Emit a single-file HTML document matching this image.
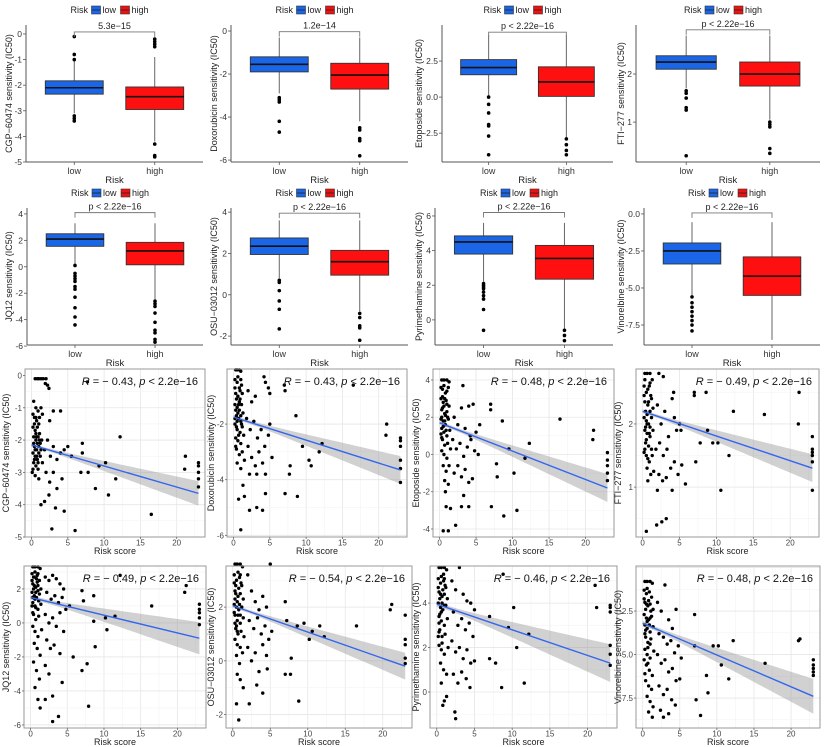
<!DOCTYPE html>
<html><head><meta charset="utf-8"><style>
html,body{margin:0;padding:0;background:#fff}
svg{display:block;font-family:"Liberation Sans",sans-serif}
</style></head><body>
<svg id="fig" width="824" height="747" viewBox="0 0 824 747" xmlns="http://www.w3.org/2000/svg"></svg>
<script>
// ---------- BOX PLOT DATA ----------
var boxDrugs = ["CGP\u221260474","Doxorubicin","Etoposide","FTI\u2212277","JQ12","OSU\u221203012","Pyrimethamine","Vinorelbine"];
var boxPLabels = ["5.3e\u221215","1.2e\u221214","p < 2.22e\u221216","p < 2.22e\u221216","p < 2.22e\u221216","p < 2.22e\u221216","p < 2.22e\u221216","p < 2.22e\u221216"];
// [whiskerLow, Q1, median, Q3, whiskerHigh]
var boxLow = [[-3.1,-2.35,-2.1,-1.83,-1.05],[-2.9,-1.9,-1.55,-1.2,-0.3],[0.1,1.55,2.05,2.6,4.3],[1.7,2.1,2.25,2.38,2.8],
  [0.2,1.55,2.1,2.5,3.3],[0.8,1.95,2.35,2.75,3.6],[2.2,3.8,4.5,4.85,5.6],[-5.47,-3.38,-2.5,-1.96,-0.55]];
var boxHigh = [[-4.2,-2.95,-2.45,-2.07,-0.9],[-4.2,-2.7,-2.05,-1.5,-0.3],[-2.9,0.05,1.05,2.1,4.3],[1.05,1.75,2.0,2.25,2.8],
  [-2.5,0.15,1.2,1.85,3.3],[-0.8,0.95,1.6,2.15,3.6],[-0.5,2.35,3.55,4.3,5.6],[-8.5,-5.5,-4.2,-2.9,-0.55]];
var boxLowOut = [[-0.1,-0.8,-1.0,-3.2,-3.3,-3.4],[-3.1,-3.2,-3.3,-4.2,-4.7],[0,-0.5,-1.1,-1.9,-2.0,-2.7,-4.0],[1.65,1.6,1.5,1.3,1.25,0.3],
  [0.1,-0.5,-0.7,-0.9,-1.1,-1.5,-1.7,-2.3,-3.1,-3.8,-4.4],[0.7,0.6,0.2,-0.3,-0.7,-1.65],[2.1,2.0,1.9,1.8,1.6,1.4,1.2,0.6,-0.6],[-5.6,-6.0,-6.3,-6.6,-6.9,-7.2,-7.5,-7.9]];
var boxHighOut = [[-0.2,-0.3,-0.4,-0.5,-4.3,-4.75,-4.8],[-4.5,-4.6,-5.0,-5.1,-5.8],[-2.9,-3.3,-3.7,-4.0],[1.0,0.95,0.9,0.45,0.35],
  [-2.6,-2.8,-3.0,-3.5,-4.2,-4.8,-5.0,-5.5,-5.7],[-0.9,-1.1,-1.5,-1.6,-2.2],[-0.6,-0.9,-1.2],[]];
var boxBracket = [0.08,-0.03,4.5,2.92,4.1,3.95,6.2,0.07];
var boxYTicks = [[0,-1,-2,-3,-4,-5],[0,-2,-4,-6],[2.5,0,-2.5],[2,1],[4,2,0,-2,-4,-6],[4,2,0,-2],[6,4,2,0],[0,-2.5,-5,-7.5]];
var boxYTickLabels = [["0","-1","-2","-3","-4","-5"],["0","-2","-4","-6"],["2.5","0.0","-2.5"],["2","1"],["4","2","0","-2","-4","-6"],["4","2","0","-2"],["6","4","2","0"],["0.0","-2.5","-5.0","-7.5"]];
var boxYDomain = [[-5,0.35],[-6.09,0.28],[-4.5,5.0],[0.17,3.02],[-5.92,4.45],[-2.43,4.2],[-1.45,6.46],[-8.85,0.4]];

// ---------- SCATTER DATA ----------
var scR = ["0.43","0.43","0.48","0.49","0.49","0.54","0.46","0.48"];
var scFitStart = [-2.15,-1.75,1.7,2.2,1.5,2.05,3.95,-3.2];
var scFitEnd = [-3.65,-3.65,-1.8,1.3,-0.9,-0.2,1.3,-7.4];
var scBandEnd = [0.38,0.5,0.75,0.22,0.95,0.5,0.85,1.0];
var scXTicks = [0,5,10,15,20];
var scYTicks = [[0,-1,-2,-3,-4,-5],[-2,-4,-6],[4,2,0,-2,-4],[2,1],[2,0,-2,-4,-6],[2,0,-2],[4,2,0],[-2.5,-5,-7.5]];
var scYTickLabels = [["0","-1","-2","-3","-4","-5"],["-2","-4","-6"],["4","2","0","-2","-4"],["2","1"],["2","0","-2","-4","-6"],["2","0","-2"],["4","2","0"],["-2.5","-5.0","-7.5"]];
var scYDomain = [[-5.0,0.2],[-6.06,-0.02],[-4.43,4.59],[0.21,2.87],[-6.18,3.35],[-2.5,3.53],[-1.62,5.67],[-9.22,0.09]];
var scPts1 = [0.5,-0.1,0.8,-0.1,1.0,-0.1,1.3,-0.1,1.6,-0.1,2.0,-0.1,2.2,-0.3,2.4,-0.4,1.9,-0.25,7.7,-0.2,0.3,-0.8,0.6,-1.0,0.9,-1.1,1.3,-1.0,0.4,-1.3,0.7,-1.4,1.1,-1.3,1.5,-1.2,2.5,-1.4,3.0,-1.1,4.0,-1.1,0.2,-1.6,0.5,-1.7,0.8,-1.6,1.1,-1.8,0.3,-1.9,0.6,-2.0,0.9,-1.9,1.2,-2.1,0.4,-2.2,0.7,-2.3,1.0,-2.2,1.4,-2.0,0.2,-2.4,0.5,-2.5,0.8,-2.6,1.2,-2.5,0.3,-2.7,0.6,-2.8,0.9,-2.9,1.5,-2.7,0.1,-3.0,0.5,-3.1,1.0,-3.2,1.8,-2.3,2.2,-2.0,2.6,-2.5,3.0,-2.2,3.5,-2.6,4.0,-2.4,4.5,-2.3,5.0,-2.2,5.5,-2.5,2.0,-3.0,2.5,-3.3,3.0,-3.0,3.5,-3.5,4.2,-3.2,2.4,-3.7,3.3,-4.1,4.5,-4.2,1.3,-4.0,1.8,-3.9,2.8,-4.75,6.0,-4.8,7.0,-2.1,7.0,-2.4,6.8,-3.0,7.8,-3.0,8.8,-3.5,9.3,-2.8,10.2,-2.7,10.6,-3.7,11.6,-3.2,12.2,-1.9,16.5,-4.3,21.1,-2.9,21.2,-2.5,23,-2.7,23,-2.8,23,-3.0,23,-3.2,23,-3.45,0.2,-1.2,0.4,-1.5,0.6,-1.8,0.8,-2.1,1.0,-2.4,0.3,-2.1,0.5,-2.3,0.7,-1.9,0.9,-2.7,0.2,-2.9,1.1,-2.0,1.3,-2.3,0.6,-1.3,0.4,-2.6,0.7,-2.5,1.0,-1.5];
var scPts2 = [0.3,-0.05,0.5,-0.05,0.8,-0.05,1.0,-0.1,0.2,-0.4,0.5,-0.5,0.8,-0.7,1.1,-0.6,0.3,-0.9,0.6,-1.0,0.9,-1.1,1.2,-0.9,0.2,-1.3,0.5,-1.4,0.8,-1.5,1.1,-1.3,0.4,-1.7,0.7,-1.8,1.0,-1.9,1.3,-1.6,0.2,-2.0,0.5,-2.2,0.9,-2.3,1.2,-2.1,0.3,-2.5,0.6,-2.6,1.0,-2.7,1.4,-2.4,0.4,-2.9,0.8,-3.1,1.2,-3.0,0.5,-3.4,1.0,-3.6,1.5,-3.3,2.0,-0.8,2.5,-1.2,3.0,-1.0,4.2,-0.3,4.4,-0.5,4.8,-0.7,5.0,-0.9,1.8,-1.8,2.3,-2.2,2.8,-1.9,3.3,-2.5,3.8,-2.2,4.3,-2.8,4.8,-2.4,5.3,-3.2,5.0,-2.0,2.0,-2.8,2.5,-3.2,3.0,-3.5,3.5,-3.0,4.0,-3.4,2.2,-3.8,3.2,-3.8,4.4,-3.8,1.3,-4.2,0.7,-4.7,1.5,-4.6,2.2,-5.1,3.2,-5.0,4.0,-5.1,4.4,-4.5,1.0,-5.8,7.0,-0.6,7.1,-0.8,8.6,-1.7,7.8,-3.5,7.7,-3.8,7.1,-4.5,8.8,-4.6,9.5,-2.8,10.4,-3.3,10.7,-3.5,12.2,-2.7,11.8,-3.0,16.5,-0.6,21.1,-2.0,21.0,-2.4,23,-2.5,23,-2.6,23,-2.8,23,-3.3,23,-3.6,23,-4.1,0.2,-0.7,0.4,-1.1,0.6,-1.6,0.8,-1.2,1.0,-1.7,0.3,-1.5,0.5,-1.9,0.7,-2.4,0.9,-0.8,0.2,-1.8,1.1,-2.0,0.6,-0.3,0.4,-2.1,0.7,-1.3,1.0,-0.4,0.3,-2.8];
var scPts3 = [0.3,4.0,0.6,4.0,1.0,4.0,1.3,3.9,0.4,3.5,0.8,3.3,1.2,3.6,0.2,3.0,0.5,2.8,0.9,2.9,1.3,2.6,0.3,2.4,0.7,2.2,1.0,2.3,0.2,1.9,0.5,1.8,0.8,1.6,1.2,1.9,0.3,1.4,0.6,1.2,1.0,1.0,1.4,1.3,0.4,0.8,0.7,0.5,1.1,0.6,0.3,0.2,0.6,0.0,1.0,-0.2,1.5,0.3,0.5,-0.6,0.9,-0.9,1.3,-0.6,0.7,-1.4,1.2,-1.6,0.8,-2.0,0.9,-2.8,1.5,-2.9,0.5,-4.1,1.2,-4.1,2.0,2.0,2.5,1.6,3.0,2.5,3.2,3.7,3.5,1.4,4.0,2.6,4.2,1.0,4.6,2.7,5.0,1.2,5.5,1.6,1.8,0.8,2.3,0.3,2.8,0.6,3.3,-0.1,3.8,0.4,4.3,0.8,4.8,0.2,5.3,0.0,2.0,-1.0,2.5,-0.6,3.0,-1.2,3.5,-0.8,4.0,-1.5,4.5,-1.3,2.2,-3.8,3.0,-2.8,3.3,-2.2,4.0,-2.8,7.0,2.7,7.0,2.4,8.6,1.8,7.8,-0.5,7.9,-1.2,7.1,-2.8,8.8,-3.3,9.5,0.3,10.2,-1.0,10.6,-3.0,11.7,-0.2,12.3,0.6,16.5,1.9,21.1,1.3,21.0,0.8,23,0.1,23,-0.3,23,-0.6,23,-1.0,23,-1.4,0.2,3.6,0.4,3.1,0.6,2.6,0.8,2.1,1.0,2.7,0.3,2.0,0.5,1.5,0.7,3.0,0.9,1.3,0.2,1.1,1.1,2.0,0.6,3.7,0.4,2.5,0.7,1.8,1.0,3.4,0.3,0.9];
var scPts4 = [0.3,2.8,0.6,2.8,1.0,2.8,1.3,2.7,0.2,2.6,0.5,2.5,0.9,2.6,1.2,2.4,0.3,2.35,0.7,2.3,1.0,2.2,1.4,2.25,0.2,2.1,0.5,2.05,0.8,2.0,1.2,2.1,0.3,1.9,0.6,1.85,1.0,1.8,1.4,1.9,0.4,1.7,0.8,1.65,1.2,1.6,0.5,1.5,0.9,1.4,1.3,1.5,0.6,1.3,1.1,1.2,0.7,1.1,1.5,1.25,2.2,2.8,2.8,2.75,2.0,2.3,2.5,2.0,3.0,2.2,3.5,1.8,4.0,2.4,4.3,2.1,4.6,1.9,5.0,2.0,5.2,1.9,4.2,2.5,1.8,1.6,2.3,1.7,2.8,1.5,3.3,1.6,3.8,1.3,4.3,1.4,4.8,1.2,5.3,1.35,2.2,1.2,2.7,1.1,3.2,1.15,4.0,0.95,5.8,1.05,2.0,0.95,0.5,0.3,1.9,0.4,2.6,0.45,3.2,0.5,7.0,2.5,7.0,2.45,8.6,2.5,7.8,1.7,7.2,1.4,8.8,1.9,9.5,1.7,10.2,1.7,10.6,0.95,11.7,1.5,12.3,2.2,16.5,2.15,21.1,2.0,21.2,2.5,23,1.8,23,1.6,23,1.55,23,1.5,23,1.4,23,0.95,0.2,2.45,0.4,2.2,0.6,2.0,0.8,2.35,1.0,1.95,0.3,2.7,0.5,1.75,0.7,2.55,0.9,1.85,0.2,1.55,1.1,2.45,0.6,2.15,0.4,1.95,0.7,1.45,1.0,2.65,0.3,1.6];
var scPts5 = [0.3,3.3,0.6,3.3,1.0,3.3,1.3,3.2,0.2,2.9,0.5,2.7,0.9,2.8,1.2,2.5,0.3,2.3,0.7,2.1,1.0,2.2,1.4,2.0,0.2,1.8,0.5,1.6,0.8,1.5,1.2,1.7,0.3,1.2,0.6,1.0,1.0,0.8,1.4,1.1,0.4,0.5,0.7,0.2,1.1,0.4,0.3,-0.2,0.6,-0.5,1.0,-0.8,1.5,-0.4,0.5,-1.2,0.9,-1.5,1.3,-1.9,0.4,-2.3,0.8,-2.8,1.2,-3.3,0.6,-3.8,1.0,-4.5,1.3,-5.0,2.0,2.7,2.5,2.5,3.0,2.8,3.5,2.6,4.0,2.3,4.5,2.0,2.2,1.8,2.8,1.4,3.3,1.6,3.8,1.2,4.3,1.5,4.8,0.8,5.3,1.0,2.0,0.5,2.5,0.0,3.0,0.3,3.5,-0.2,4.0,0.6,4.5,-0.5,2.2,-1.0,2.7,-1.5,3.2,-1.3,4.0,-1.8,5.8,-2.0,2.0,-2.5,2.5,-3.0,3.0,-4.3,3.8,-5.5,3.0,-5.8,2.0,-4.5,4.3,-3.5,7.0,1.9,7.2,1.3,8.6,1.6,7.0,-2.8,7.7,-2.4,7.9,-4.9,8.6,0.1,8.8,-1.4,10.2,0.3,10.4,-0.4,11.5,0.4,12.2,2.8,16.5,1.0,21.0,1.8,21.2,2.2,23,1.1,23,0.8,23,0.6,23,0.3,23,-0.1,0.2,2.5,0.4,2.0,0.6,1.4,0.8,2.6,1.0,1.9,0.3,1.5,0.5,2.2,0.7,0.9,0.9,2.4,0.2,1.0,1.1,1.3,0.6,3.0,0.4,2.7,0.7,1.8,1.0,2.9,0.3,0.6];
var scPts6 = [0.3,3.6,0.6,3.6,1.0,3.6,1.3,3.5,0.2,3.2,0.5,3.0,0.9,3.1,1.2,2.8,0.3,2.6,0.7,2.4,1.0,2.5,1.4,2.3,0.2,2.1,0.5,2.0,0.8,1.9,1.2,2.0,0.3,1.7,0.6,1.5,1.0,1.4,1.4,1.6,0.4,1.2,0.7,1.0,1.1,1.1,0.3,0.8,0.6,0.6,1.0,0.5,1.5,0.9,0.5,0.2,0.9,-0.1,1.3,0.3,0.6,-0.5,1.0,-0.7,0.5,-1.6,1.4,-1.0,0.8,-2.2,2.0,3.2,2.5,2.6,3.0,2.2,3.5,1.9,4.0,2.4,4.5,2.0,5.0,3.6,2.2,1.5,2.8,1.2,3.3,1.6,3.8,1.0,4.3,1.3,4.8,0.8,5.2,1.1,2.0,0.5,2.5,0.0,3.0,0.3,3.5,-0.4,4.0,0.6,4.5,0.2,2.2,-1.6,3.2,-0.9,4.0,-1.2,4.6,-0.3,7.0,2.2,7.2,1.5,7.8,0.1,7.0,-0.5,7.7,-0.5,8.6,1.3,8.8,-1.5,9.5,1.4,10.2,0.8,10.6,1.1,11.6,1.3,12.2,0.9,16.5,1.3,21.0,1.9,21.2,2.1,23,1.7,23,0.8,23,0.6,23,0.1,23,-0.1,0.2,2.9,0.4,2.5,0.6,2.2,0.8,2.7,1.0,1.7,0.3,2.3,0.5,1.3,0.7,3.3,0.9,2.1,0.2,1.8,1.1,2.9,0.6,1.1,0.4,2.8,0.7,1.7,1.0,3.2,0.3,1.4];
var scPts7 = [0.3,5.6,0.6,5.6,1.0,5.6,1.3,5.5,0.2,5.1,0.5,4.9,0.9,5.0,1.2,4.7,0.3,4.5,0.7,4.3,1.0,4.4,1.4,4.2,0.2,4.0,0.5,3.8,0.8,3.7,1.2,3.9,0.3,3.4,0.6,3.2,1.0,3.0,1.4,3.3,0.4,2.8,0.7,2.5,1.1,2.6,0.3,2.1,0.6,1.9,1.0,1.7,1.5,2.0,0.5,1.3,0.9,1.0,1.3,0.8,0.6,0.4,1.0,-0.4,0.8,-0.6,1.3,-0.2,2.0,5.0,2.5,4.6,3.0,5.6,3.5,4.4,4.0,4.1,4.5,4.0,5.0,3.7,2.2,3.6,2.8,3.0,3.3,3.3,3.8,2.8,4.3,3.1,4.8,2.5,2.0,2.3,2.5,1.8,3.0,2.0,3.5,1.5,4.0,1.9,4.5,1.3,5.0,1.4,2.2,0.8,2.8,0.4,3.3,0.9,3.9,0.6,4.4,0.2,2.4,-0.9,2.5,-1.2,7.0,3.4,7.0,1.5,7.8,1.3,8.8,5.3,9.5,2.9,10.2,3.8,10.6,2.0,11.6,0.4,12.2,2.6,8.6,0.2,21.0,4.8,21.2,3.8,23,3.9,23,3.8,23,3.6,23,2.1,23,1.7,23,1.2,0.2,4.7,0.4,4.2,0.6,3.6,0.8,4.6,1.0,3.9,0.3,3.1,0.5,4.4,0.7,2.2,0.9,5.3,0.2,2.5,1.1,4.8,0.6,5.2,0.4,3.5,0.7,4.0,1.0,5.1,0.3,2.7];
var scPts8 = [0.3,-0.8,0.6,-0.8,1.0,-0.8,1.3,-0.9,0.2,-1.3,0.5,-1.5,0.9,-1.4,1.2,-1.7,0.3,-2.0,0.7,-2.2,1.0,-2.1,1.4,-2.4,0.2,-2.7,0.5,-2.9,0.8,-3.0,1.2,-2.8,0.3,-3.3,0.6,-3.5,1.0,-3.7,1.4,-3.4,0.4,-4.0,0.7,-4.3,1.1,-4.1,0.3,-4.7,0.6,-5.0,1.0,-5.2,1.5,-4.8,0.5,-5.6,0.9,-5.9,1.3,-6.2,0.4,-6.5,0.8,-6.8,1.2,-7.0,0.6,-7.4,1.0,-7.7,1.4,-8.0,0.8,-8.3,1.3,-8.6,2.0,-2.0,2.5,-2.5,3.0,-1.0,3.5,-3.0,4.0,-3.5,4.5,-2.4,2.2,-3.8,2.8,-4.0,3.3,-4.4,3.8,-4.2,4.3,-4.9,4.8,-4.5,5.2,-5.2,2.0,-5.0,2.5,-5.5,3.0,-5.3,3.5,-6.0,4.0,-5.8,4.5,-6.5,5.0,-6.4,2.2,-6.8,2.8,-7.3,3.3,-7.0,3.9,-7.6,4.4,-7.9,2.4,-8.2,2.8,-8.6,3.5,-8.4,7.0,-2.7,7.0,-4.5,7.2,-7.6,7.8,-8.5,8.6,-6.2,8.8,-7.2,9.5,-4.5,10.2,-4.5,10.6,-5.6,11.6,-6.4,12.2,-4.2,16.5,-5.5,21.0,-4.2,21.2,-4.1,23,-5.3,23,-5.6,23,-5.8,23,-6.0,23,-6.2,0.2,-1.8,0.4,-2.4,0.6,-3.1,0.8,-1.9,1.0,-2.9,0.3,-3.8,0.5,-2.1,0.7,-4.6,0.9,-3.3,0.2,-5.3,1.1,-2.5,0.6,-1.2,0.4,-3.6,0.7,-5.5,1.0,-4.4,0.3,-6.1];
var scPts = [scPts1,scPts2,scPts3,scPts4,scPts5,scPts6,scPts7,scPts8];

// ---------- LAYOUT ----------
var colX = [0,205,410,617];
var titleOff = [12,12,12,7];
var boxL = [26,231,442,636,27,231,435,644];
var boxRowY = [0,0,0,0,183,183,183,183];
var scL = [25,227,433,636,24,226,430,636];
var scRgt = [205,407,614,819,206,412,617,820];
var scTop = [369,369,369,369,566,566,566,566];
var scBot = [537,537,537,537,728,728,728,728];
var scXDom = [-0.9,23.9];

var NS = "http://www.w3.org/2000/svg";
var svg = document.getElementById('fig');
function mk(tag, attrs, parent, txt){
  var e = document.createElementNS(NS, tag);
  for (var k in attrs) e.setAttribute(k, attrs[k]);
  if (txt !== undefined) e.textContent = txt;
  (parent || svg).appendChild(e);
  return e;
}
function lin(d0,d1,r0,r1){ return function(v){ return r0 + (v-d0)/(d1-d0)*(r1-r0); }; }

function drawBox(i){
  var g = mk('g',{});
  
  
  var px = colX[i%4], ry = boxRowY[i], L = boxL[i], R = px+203;
  var pTop = ry+25, pBot = ry+162;
  var y = lin(boxYDomain[i][0], boxYDomain[i][1], pBot, pTop);
  var x = lin(0.4, 2.6, L, R);
  var cx = (L+R)/2;
  var lg = mk('g',{}, g);
  
  
  var lx = cx - 44;
  mk('text',{x:lx, y:ry+13, 'font-size':9, fill:'#222'}, lg, 'Risk');
  mk('rect',{x:lx+21, y:ry+6, width:9, height:8, fill:'#1a66e6', stroke:'#333','stroke-width':0.6}, lg);
  mk('line',{x1:lx+21,x2:lx+30,y1:ry+10,y2:ry+10,stroke:'#222','stroke-width':0.8}, lg);
  mk('text',{x:lx+32, y:ry+13, 'font-size':9, fill:'#222'}, lg, 'low');
  mk('rect',{x:lx+50, y:ry+6, width:9, height:8, fill:'#ee1111', stroke:'#333','stroke-width':0.6}, lg);
  mk('line',{x1:lx+50,x2:lx+59,y1:ry+10,y2:ry+10,stroke:'#222','stroke-width':0.8}, lg);
  mk('text',{x:lx+61, y:ry+13, 'font-size':9, fill:'#222'}, lg, 'high');
  var ax = mk('line',{x1:L,x2:L,y1:pTop,y2:pBot,stroke:'#555','stroke-width':1}, g);
  
  
  var bx = mk('line',{x1:L,x2:R,y1:pBot,y2:pBot,stroke:'#555','stroke-width':1}, g);
  
  
  for (var t=0;t<boxYTicks[i].length;t++){
    var ty = y(boxYTicks[i][t]);
    mk('line',{x1:L-3,x2:L,y1:ty,y2:ty,stroke:'#555','stroke-width':0.8}, g);
    mk('text',{x:L-4, y:ty+3, 'font-size':8.5, 'text-anchor':'end', fill:'#333'}, g, boxYTickLabels[i][t]);
  }
  [1,2].forEach(function(k){ mk('line',{x1:x(k),x2:x(k),y1:pBot,y2:pBot+3,stroke:'#555','stroke-width':0.8}, g); });
  mk('text',{x:x(1), y:pBot+12, 'font-size':9, 'text-anchor':'middle', fill:'#333'}, g, 'low');
  mk('text',{x:x(2), y:pBot+12, 'font-size':9, 'text-anchor':'middle', fill:'#333'}, g, 'high');
  var xt = mk('text',{x:cx, y:pBot+21, 'font-size':9.5, 'text-anchor':'middle', fill:'#222'}, g, 'Risk');
  
  
  var yt = mk('text',{x:0, y:0, 'font-size':9, 'text-anchor':'middle', fill:'#222', transform:'translate('+(px+titleOff[i%4])+','+((pTop+pBot)/2)+') rotate(-90)'}, g, boxDrugs[i]+' sensitivity (IC50)');
  
  
  var hw = 0.36*(x(2)-x(1));
  [[boxLow[i], boxLowOut[i], 1, '#1a66e6','low'],[boxHigh[i], boxHighOut[i], 2, '#ff1010','high']].forEach(function(b){
    var s=b[0], c=x(b[2]);
    var bg = mk('g',{}, g);
    
    
    mk('line',{x1:c,x2:c,y1:y(s[4]),y2:y(s[3]),stroke:'#666','stroke-width':1}, bg);
    mk('line',{x1:c,x2:c,y1:y(s[1]),y2:y(s[0]),stroke:'#666','stroke-width':1}, bg);
    mk('rect',{x:c-hw, y:y(s[3]), width:2*hw, height:y(s[1])-y(s[3]), fill:b[3], stroke:'#333','stroke-width':0.9}, bg);
    mk('line',{x1:c-hw,x2:c+hw,y1:y(s[2]),y2:y(s[2]),stroke:'#111','stroke-width':1.6}, bg);
    b[1].forEach(function(o){ mk('circle',{cx:c, cy:y(o), r:1.8, fill:'#000'}, bg); });
  });
  var by = y(boxBracket[i]);
  var br = mk('path',{d:'M'+x(1)+','+(by+5)+'V'+by+'H'+x(2)+'V'+(by+5), fill:'none', stroke:'#777','stroke-width':0.9}, g);
  
  
  mk('text',{x:(x(1)+x(2))/2, y:by-3, 'font-size':9, 'text-anchor':'middle', fill:'#222'}, g, boxPLabels[i]);
}

function drawScatter(i){
  var g = mk('g',{});
  
  
  var L=scL[i], R=scRgt[i], T=scTop[i], B=scBot[i], px=colX[i%4];
  var x = lin(scXDom[0], scXDom[1], L, R);
  var y = lin(scYDomain[i][0], scYDomain[i][1], B, T);
  for (var v=2.5; v<23; v+=5) mk('line',{x1:x(v),x2:x(v),y1:T,y2:B,stroke:'#f3f3f3','stroke-width':0.6}, g);
  scXTicks.forEach(function(v){ mk('line',{x1:x(v),x2:x(v),y1:T,y2:B,stroke:'#e6e6e6','stroke-width':0.8}, g); });
  var yt = scYTicks[i];
  var step = yt.length>1 ? Math.abs(yt[0]-yt[1]) : 1;
  var ymin = Math.min.apply(null, yt) - 3*step;
  for (var m=0;m<16;m++){ var vv = ymin + m*step/2; var pv=y(vv); if (pv>T && pv<B) mk('line',{x1:L,x2:R,y1:pv,y2:pv,stroke: (m%2? '#f3f3f3':'#e6e6e6'),'stroke-width':(m%2?0.6:0.8)}, g); }
  var bandTop=[], bandBot=[];
  for (var s=0;s<=23;s+=0.5){
    var fv = scFitStart[i] + (scFitEnd[i]-scFitStart[i])*s/23;
    var h = scBandEnd[i]*Math.sqrt(0.015 + Math.pow((s-1.5)/21.5,2))/Math.sqrt(1.015);
    bandTop.push(x(s)+','+y(fv+h)); bandBot.unshift(x(s)+','+y(fv-h));
  }
  var band = mk('polygon',{points:bandTop.concat(bandBot).join(' '), fill:'#999', 'fill-opacity':0.45}, g);
  
  
  var pg = mk('g',{fill:'#000'}, g);
  
  
  var P = scPts[i];
  for (var k=0;k<P.length;k+=2) mk('circle',{cx:x(P[k]), cy:y(P[k+1]), r:1.7}, pg);
  var fl = mk('line',{x1:x(0),y1:y(scFitStart[i]),x2:x(23),y2:y(scFitEnd[i]),stroke:'#3366ee','stroke-width':1.4}, g);
  
  
  mk('rect',{x:L,y:T,width:R-L,height:B-T,fill:'none',stroke:'#9a9a9a','stroke-width':1}, g);
  scXTicks.forEach(function(v){
    mk('line',{x1:x(v),x2:x(v),y1:B,y2:B+2,stroke:'#666','stroke-width':0.8}, g);
    mk('text',{x:x(v), y:B+8.5, 'font-size':8,'text-anchor':'middle',fill:'#444'}, g, String(v));
  });
  for (var t=0;t<yt.length;t++){
    var ty=y(yt[t]);
    mk('line',{x1:L-2,x2:L,y1:ty,y2:ty,stroke:'#666','stroke-width':0.8}, g);
    mk('text',{x:L-3, y:ty+3, 'font-size':8,'text-anchor':'end',fill:'#444'}, g, scYTickLabels[i][t]);
  }
  var xt = mk('text',{x:(L+R)/2, y:B+17, 'font-size':9,'text-anchor':'middle',fill:'#222'}, g, 'Risk score');
  
  
  var yti = mk('text',{x:0,y:0,'font-size':9,'text-anchor':'middle',fill:'#222',transform:'translate('+(px+titleOff[i%4]-3)+','+((T+B)/2)+') rotate(-90)'}, g, boxDrugs[i]+' sensitivity (IC50)');
  
  
  var rt = mk('text',{x:R-7, y:T+16, 'font-size':11,'text-anchor':'end',fill:'#111'}, g);
  
  
  mk('tspan',{'font-style':'italic'}, rt, 'R');
  mk('tspan',{}, rt, ' = \u2212 ' + scR[i] + ', ');
  mk('tspan',{'font-style':'italic'}, rt, 'p');
  mk('tspan',{}, rt, ' < 2.2e\u221216');
}

for (var i=0;i<8;i++) drawBox(i);
for (var j=0;j<8;j++) drawScatter(j);
</script>
</body></html>
